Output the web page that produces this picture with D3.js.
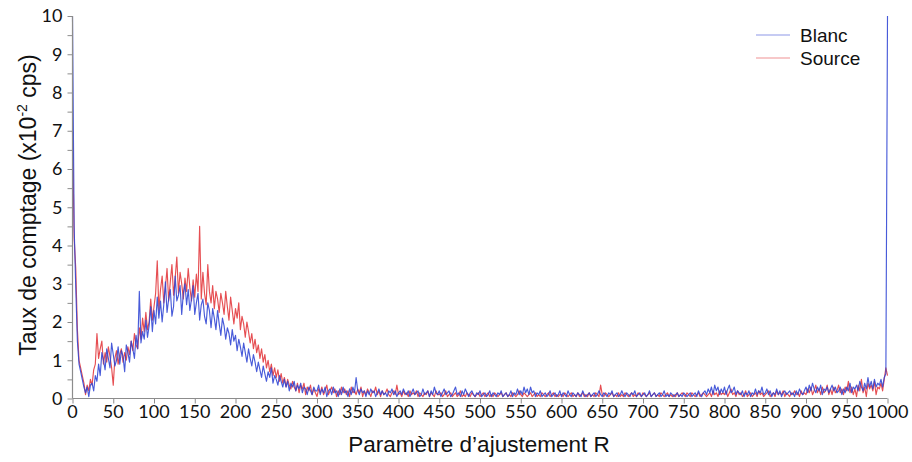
<!DOCTYPE html>
<html>
<head>
<meta charset="utf-8">
<script src="https://cdn.jsdelivr.net/npm/d3@7"></script>
<style>
  html, body { margin: 0; padding: 0; background: #fff; }
  svg { display: block; }
</style>
</head>
<body>
<svg id="chart" width="912" height="462"></svg>
<script>
// ---- data ----
const rValues = d3.range(0, 1001, 2); // Paramètre d'ajustement R (categories)
const seriesNames = ["Blanc", "Source"];
const xTicks = d3.range(0, 1001, 50);
const yTicks = d3.range(0, 11, 1);
const yMinorTicks = d3.range(0, 10.01, 0.5);

const blanc = [
10,4.5,2.9,1.5,0.9,
0.7,0.5,0.3,0.15,0.3,
0.05,0.35,0.4,0.2,0.6,
0.45,0.9,0.6,1.2,1.0,
0.75,1.3,1.05,0.8,1.45,
1.15,0.85,1.0,1.35,0.9,
1.25,1.1,0.7,1.4,1.2,
0.95,1.5,1.3,1.05,1.65,
1.3,2.8,1.45,1.75,1.55,
2.05,1.6,1.9,2.4,1.75,
2.3,1.95,2.65,2.1,2.55,
2.0,2.45,3.05,2.25,2.6,
2.85,2.15,2.4,3.2,2.55,
2.7,2.95,2.2,2.75,3.0,
2.45,2.85,2.3,2.6,2.95,
2.2,2.5,2.75,2.05,2.45,
2.6,2.15,1.95,2.5,2.3,
1.85,2.35,2.1,1.8,2.3,
1.95,1.65,2.1,1.9,1.55,
1.85,1.7,1.4,1.8,1.5,
1.65,1.25,1.55,1.35,1.1,
1.45,1.2,0.95,1.3,1.05,
0.85,1.15,0.95,0.7,0.95,
0.75,0.55,0.85,0.65,0.45,
0.7,0.55,0.8,0.4,0.6,
0.5,0.35,0.6,0.45,0.3,
0.5,0.3,0.45,0.2,0.4,
0.3,0.45,0.2,0.35,0.25,
0.4,0.15,0.3,0.25,0.1,
0.3,0.2,0.1,0.3,0.2,
0.2,0.35,0.1,0.25,0.15,
0.3,0.05,0.2,0.25,0.1,
0.3,0.15,0.2,0.05,0.25,
0.1,0.3,0.15,0.2,0.05,
0.25,0.1,0.3,0.15,0.55,
0.2,0.1,0.25,0.15,0.2,
0.05,0.2,0.1,0.25,0.15,
0.2,0.05,0.15,0.25,0.1,
0.2,0.1,0.15,0.05,0.2,
0.15,0.25,0.1,0.2,0.05,
0.15,0.2,0.1,0.25,0.15,
0.1,0.2,0.05,0.15,0.25,
0.1,0.15,0.2,0.05,0.1,
0.25,0.1,0.15,0.2,0.05,
0.2,0.1,0.3,0.15,0.1,
0.2,0.05,0.15,0.25,0.1,
0.15,0.2,0.05,0.1,0.2,
0.3,0.1,0.15,0.05,0.2,
0.1,0.25,0.15,0.05,0.15,
0.2,0.1,0.05,0.15,0.1,
0.2,0.05,0.1,0.15,0.05,
0.1,0.2,0.05,0.15,0.1,
0.05,0.15,0.1,0.2,0.05,
0.1,0.15,0.05,0.1,0.2,
0.05,0.15,0.1,0.25,0.1,
0.2,0.1,0.3,0.15,0.25,
0.1,0.3,0.15,0.2,0.05,
0.15,0.1,0.2,0.05,0.1,
0.15,0.05,0.1,0.2,0.05,
0.1,0.15,0.05,0.1,0.2,
0.05,0.15,0.1,0.05,0.2,
0.1,0.05,0.15,0.1,0.05,
0.15,0.1,0.05,0.2,0.1,
0.05,0.1,0.15,0.05,0.1,
0.15,0.05,0.1,0.2,0.1,
0.05,0.15,0.1,0.05,0.15,
0.1,0.2,0.05,0.1,0.15,
0.05,0.1,0.2,0.1,0.05,
0.15,0.1,0.05,0.15,0.1,
0.2,0.05,0.1,0.15,0.05,
0.1,0.15,0.05,0.1,0.2,
0.05,0.1,0.15,0.05,0.1,
0.15,0.05,0.1,0.2,0.05,
0.1,0.05,0.15,0.1,0.05,
0.1,0.15,0.05,0.1,0.05,
0.15,0.1,0.05,0.1,0.15,
0.05,0.1,0.15,0.05,0.2,
0.1,0.05,0.15,0.2,0.1,
0.25,0.15,0.3,0.1,0.35,
0.2,0.3,0.1,0.25,0.15,
0.3,0.1,0.25,0.35,0.15,
0.2,0.3,0.1,0.2,0.15,
0.1,0.2,0.05,0.15,0.1,
0.2,0.05,0.15,0.1,0.25,
0.1,0.2,0.15,0.3,0.1,
0.15,0.25,0.1,0.2,0.05,
0.15,0.1,0.25,0.1,0.2,
0.05,0.15,0.2,0.1,0.15,
0.2,0.1,0.15,0.05,0.2,
0.1,0.25,0.15,0.1,0.2,
0.3,0.15,0.35,0.2,0.4,
0.25,0.15,0.3,0.2,0.35,
0.1,0.25,0.2,0.3,0.15,
0.25,0.35,0.2,0.3,0.15,
0.2,0.3,0.1,0.25,0.15,
0.3,0.2,0.4,0.15,0.3,
0.25,0.35,0.2,0.45,0.3,
0.2,0.4,0.25,0.55,0.3,
0.45,0.25,0.5,0.3,0.4,
0.35,0.5,0.3,0.55,0.65,
10
];

const source = [
7.0,4.2,3.4,1.8,1.0,
0.8,0.6,0.4,0.1,0.35,
0.2,0.5,0.35,0.75,0.9,
1.7,1.05,1.3,1.5,0.9,
1.2,0.95,1.35,1.1,0.8,
0.35,1.05,1.25,0.9,1.15,
1.3,0.95,1.2,1.0,1.35,
1.15,1.5,1.25,1.7,1.4,
1.3,1.85,1.55,2.1,1.75,
2.25,1.8,2.0,2.6,2.05,
2.4,2.75,3.6,2.3,2.85,
3.2,2.5,2.9,3.4,2.55,
3.05,3.5,2.7,3.15,3.7,
2.75,3.3,3.0,2.6,3.15,
2.8,3.4,2.9,2.55,3.1,
2.65,3.25,2.8,4.5,2.6,
3.3,2.75,2.45,3.5,2.8,
2.5,2.95,2.35,2.8,2.6,
2.25,2.75,2.5,2.2,2.8,
2.4,2.05,2.65,2.3,1.95,
2.35,2.1,2.5,1.8,2.15,
1.95,1.6,2.0,1.75,1.45,
1.7,1.3,1.55,1.2,1.4,
1.05,1.3,0.95,1.15,0.8,
1.0,0.7,0.9,0.6,0.8,
0.55,0.75,0.45,0.65,0.4,
0.55,0.3,0.5,0.35,0.25,
0.45,0.3,0.2,0.4,0.15,
0.35,0.25,0.4,0.1,0.3,
0.2,0.35,0.1,0.25,0.15,
0.05,0.25,0.15,0.3,0.1,
0.2,0.35,0.1,0.2,0.3,
0.15,0.25,0.05,0.2,0.1,
0.3,0.15,0.25,0.1,0.2,
0.05,0.3,0.15,0.2,0.1,
0.25,0.15,0.3,0.05,0.2,
0.1,0.25,0.15,0.05,0.2,
0.15,0.3,0.1,0.2,0.05,
0.2,0.1,0.15,0.25,0.1,
0.05,0.15,0.2,0.1,0.35,
0.1,0.15,0.05,0.2,0.1,
0.15,0.05,0.2,0.1,0.15,
0.1,0.2,0.05,0.15,0.1,
0.05,0.15,0.1,0.2,0.05,
0.15,0.1,0.05,0.2,0.1,
0.1,0.15,0.05,0.1,0.2,
0.05,0.1,0.15,0.05,0.1,
0.15,0.05,0.1,0.2,0.05,
0.1,0.05,0.15,0.1,0.05,
0.15,0.1,0.05,0.1,0.15,
0.05,0.1,0.15,0.05,0.1,
0.15,0.05,0.1,0.05,0.15,
0.1,0.05,0.1,0.15,0.05,
0.1,0.15,0.05,0.1,0.05,
0.15,0.1,0.05,0.1,0.2,
0.1,0.05,0.15,0.1,0.05,
0.1,0.15,0.05,0.1,0.15,
0.05,0.1,0.05,0.15,0.1,
0.05,0.1,0.15,0.05,0.1,
0.15,0.05,0.1,0.05,0.1,
0.1,0.05,0.15,0.1,0.05,
0.1,0.15,0.05,0.1,0.05,
0.15,0.05,0.1,0.15,0.05,
0.1,0.05,0.15,0.05,0.1,
0.05,0.15,0.1,0.05,0.35,
0.1,0.05,0.15,0.1,0.05,
0.1,0.15,0.05,0.1,0.05,
0.15,0.05,0.1,0.05,0.15,
0.1,0.05,0.1,0.15,0.05,
0.1,0.05,0.15,0.1,0.05,
0.15,0.1,0.05,0.1,0.15,
0.05,0.1,0.15,0.05,0.1,
0.05,0.15,0.1,0.05,0.1,
0.15,0.05,0.1,0.05,0.1,
0.05,0.15,0.05,0.1,0.15,
0.1,0.05,0.15,0.1,0.05,
0.15,0.1,0.05,0.1,0.15,
0.05,0.1,0.15,0.1,0.05,
0.1,0.15,0.05,0.2,0.1,
0.15,0.05,0.2,0.1,0.15,
0.1,0.2,0.05,0.15,0.25,
0.1,0.15,0.05,0.2,0.1,
0.15,0.05,0.1,0.2,0.05,
0.1,0.15,0.05,0.1,0.15,
0.05,0.2,0.1,0.15,0.05,
0.1,0.15,0.2,0.05,0.1,
0.15,0.05,0.2,0.1,0.15,
0.1,0.2,0.05,0.15,0.1,
0.05,0.15,0.1,0.2,0.1,
0.15,0.05,0.2,0.1,0.15,
0.1,0.25,0.15,0.3,0.1,
0.2,0.35,0.15,0.25,0.1,
0.3,0.15,0.2,0.35,0.1,
0.25,0.1,0.3,0.15,0.2,
0.35,0.15,0.25,0.1,0.3,
0.2,0.45,0.15,0.3,0.1,
0.25,0.05,0.35,0.2,0.5,
0.15,0.3,0.05,0.4,0.25,
0.35,0.2,0.45,0.1,0.3,
0.25,0.4,0.2,0.5,0.8,
0.6
];

const seriesValues = [blanc, source];
const seriesColors = ["#2f44d4", "#e2363a"];

// ---- layout ----
const svg = d3.select("#chart");
const x = d3.scaleLinear().domain([0, 1000]).range([72.5, 887.5]);
const y = d3.scaleLinear().domain([0, 10]).range([398.5, 16]);

const tickFont = "Lato, 'Open Sans', sans-serif";
const titleFont = "'Liberation Sans', Arial, sans-serif";
const axisColor = "#8c8c8c";

svg.append("defs").append("clipPath").attr("id", "plotclip")
  .append("rect").attr("x", x(0) - 2).attr("y", y(10) - 1)
  .attr("width", x(1000) - x(0) + 4).attr("height", y(0) - y(10) + 1);

// lines
const line = d3.line()
  .x((d, i) => x(rValues[i]))
  .y(d => y(d));

const gLines = svg.append("g").attr("clip-path", "url(#plotclip)");
[1, 0].forEach(k => {
  gLines.append("path")
    .datum(seriesValues[k])
    .attr("fill", "none")
    .attr("stroke", seriesColors[k])
    .attr("stroke-width", 1.15)
    .attr("stroke-opacity", 0.88)
    .attr("stroke-linejoin", "round")
    .attr("d", line);
});

// y axis
const yAxisG = svg.append("g").attr("transform", `translate(${x(0)},0)`);
yAxisG.call(d3.axisLeft(y).tickValues(yMinorTicks).tickSize(5).tickFormat(""));
yAxisG.call(g => g.select(".domain").remove());
yAxisG.selectAll(".tick line").attr("stroke", axisColor);
yAxisG.append("line").attr("x1", 0).attr("x2", 0).attr("y1", y(0)).attr("y2", y(10))
  .attr("stroke", axisColor).attr("stroke-width", 1.2);
yAxisG.selectAll(".ylab").data(yTicks).enter().append("text")
  .attr("class", "ylab")
  .attr("x", -10).attr("y", d => y(d))
  .attr("dy", "0.36em")
  .attr("text-anchor", "end")
  .attr("font-family", tickFont).attr("font-size", 18).attr("fill", "#111")
  .text(d => d);

// x axis
const xAxisG = svg.append("g").attr("transform", `translate(0,${y(0)})`);
xAxisG.call(d3.axisBottom(x).tickValues(xTicks).tickSize(5).tickFormat(""));
xAxisG.call(g => g.select(".domain").remove());
xAxisG.selectAll(".tick line").attr("stroke", axisColor);
xAxisG.append("line").attr("x1", x(0)).attr("x2", x(1000)).attr("y1", 0).attr("y2", 0)
  .attr("stroke", axisColor).attr("stroke-width", 1.2);
xAxisG.selectAll(".xlab").data(xTicks).enter().append("text")
  .attr("class", "xlab")
  .attr("x", d => x(d)).attr("y", 19)
  .attr("text-anchor", "middle")
  .attr("font-family", tickFont).attr("font-size", 18).attr("fill", "#111")
  .text(d => d);

// axis titles
svg.append("text")
  .attr("x", 479).attr("y", 452)
  .attr("text-anchor", "middle")
  .attr("font-family", titleFont).attr("font-size", 22.5).attr("fill", "#111")
  .text("Paramètre d’ajustement R");

const yt = svg.append("text")
  .attr("transform", `translate(36,205) rotate(-90)`)
  .attr("text-anchor", "middle")
  .attr("font-family", titleFont).attr("font-size", 23).attr("fill", "#111");
yt.append("tspan").text("Taux de comptage (x10");
yt.append("tspan").attr("dy", -9).attr("font-size", 14).text("-2");
yt.append("tspan").attr("dy", 9).text(" cps)");

// legend
const legend = svg.append("g").attr("transform", "translate(756,35)");
seriesNames.forEach((name, i) => {
  const gy = i * 23;
  legend.append("line").attr("x1", 0).attr("x2", 34).attr("y1", gy).attr("y2", gy)
    .attr("stroke", seriesColors[i]).attr("stroke-width", 1).attr("stroke-opacity", 0.55);
  legend.append("text").attr("x", 44).attr("y", gy).attr("dy", "0.36em")
    .attr("font-family", titleFont).attr("font-size", 19).attr("fill", "#111")
    .text(name);
});
</script>
</body>
</html>
